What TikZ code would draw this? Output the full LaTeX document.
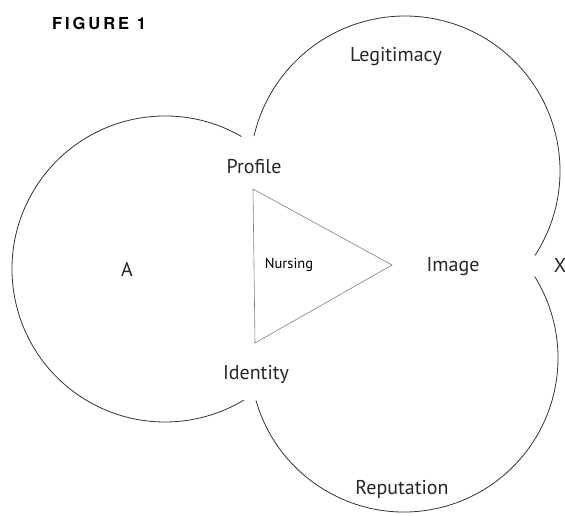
\documentclass[tikz,border=0pt]{standalone}
\usepackage{fontspec}
\setmainfont{PT Sans}
\newfontfamily\figfont[LetterSpace=18]{TeX Gyre Heros}
\begin{document}
\begin{tikzpicture}[x=1pt,y=1pt,
  ring/.style={line width=0.8pt, draw=black!80},
  tri/.style={line width=0.6pt, draw=black!50},
  lbl/.style={anchor=base, font=\fontsize{20}{22}\selectfont, text=black!85, inner sep=0pt},
  small/.style={anchor=base, font=\fontsize{14.5}{16}\selectfont, text=black, inner sep=0pt},
  title/.style={anchor=base, font=\figfont\bfseries\fontsize{16.5}{18}\selectfont, inner sep=0pt}]
\useasboundingbox (0,0) rectangle (565,515);
% circles (open arcs)
\draw[ring] ([shift={(60:153)}]165,246) arc[start angle=60, end angle=301, radius=153];
\draw[ring] ([shift={(-33:155)}]405,344) arc[start angle=-33, end angle=167, radius=155];
\draw[ring] ([shift={(196:154)}]404,157) arc[start angle=196, end angle=392, radius=154];
% triangle
\coordinate (t1) at (253,326);
\coordinate (t2) at (255,172);
\coordinate (t3) at (392,250);
\draw[tri] (t1) -- (t2) -- (t3) -- cycle;
% labels
\node[title] (fig) at (99,485) {FIGURE 1};
\node[lbl] (leg) at (396,453) {Legitimacy};
\node[lbl] (pro) at (254,341) {Profile};
\node[lbl] (a) at (127,239) {A};
\node[small] (nur) at (289,247) {Nursing};
\node[lbl] (img) at (453,244) {Image};
\node[lbl] (x) at (560,243) {X};
\node[lbl] (ide) at (256,136) {Identity};
\node[lbl] (rep) at (402,21) {Reputation};
\end{tikzpicture}
\end{document}
